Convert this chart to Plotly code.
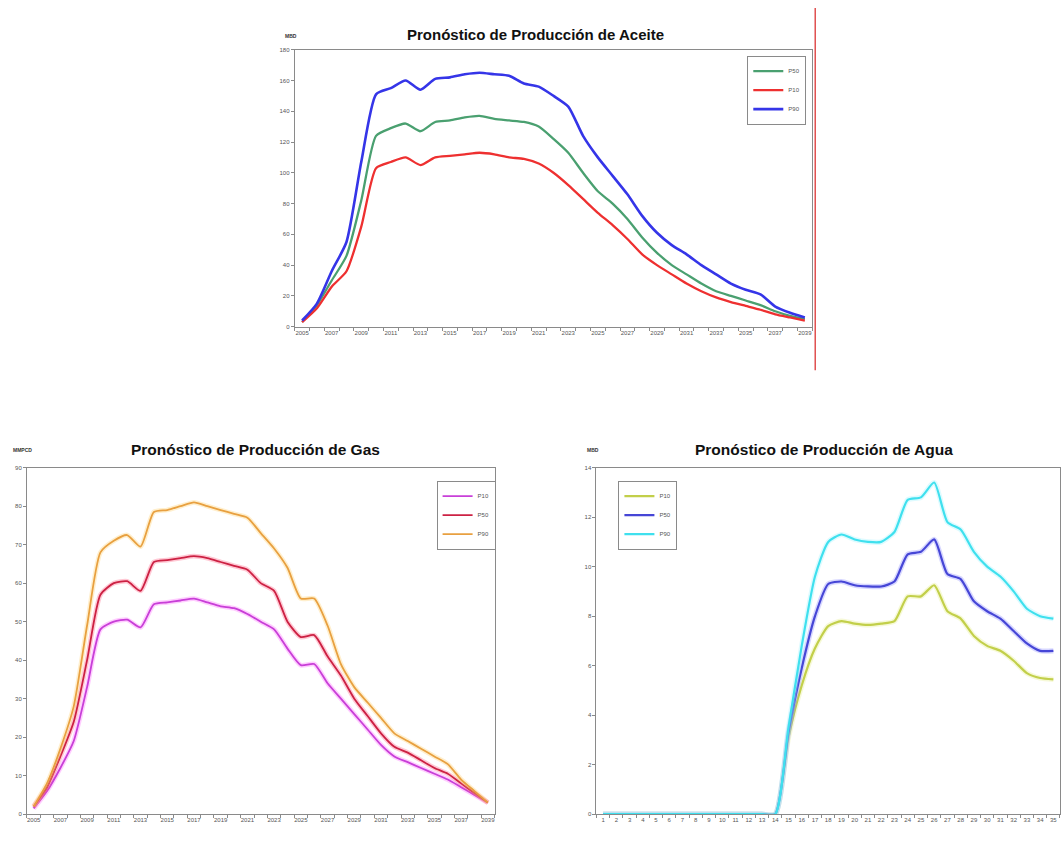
import plotly.graph_objects as go

W, H = 1061, 841

# ---------------- data ----------------
years = list(range(2005, 2040))
year_labels = [str(y) for y in range(2005, 2040, 2)]

# Oil (MBD)
oil_p50 = [3, 14, 30, 46, 82, 124, 129, 132, 127, 133, 134, 136, 137, 135, 134, 133, 130,
           122, 113, 100, 88, 80, 70, 58, 48, 40, 34, 28, 23, 20, 17, 14, 10, 7, 5]
oil_p10 = [3, 12, 26, 36, 65, 103, 107, 110, 105, 110, 111, 112, 113, 112, 110, 109, 106,
           100, 92, 83, 74, 66, 57, 47, 40, 34, 28, 23, 19, 16, 13.5, 11, 8, 6, 4]
oil_p90 = [4, 15, 36, 55, 107, 151, 155, 160, 154, 161, 162, 164, 165, 164, 163, 158, 156,
           150, 143, 124, 110, 98, 86, 72, 61, 53, 47, 40, 34, 28, 24, 21, 13, 9, 6]

# Gas (MMPCD)
gas_p10 = [1.5, 6, 12, 19, 33, 48, 50, 50.5, 48.5, 54.5, 55, 55.5, 56, 55, 54, 53.5, 52,
           50, 48, 43, 38.7, 39, 34, 30, 26, 22, 18, 15, 13.5, 12, 10.5, 9, 7, 5, 3]
gas_p50 = [2, 7, 15, 24, 40, 57, 60, 60.5, 58, 65.5, 66, 66.5, 67, 66.5, 65.5, 64.5, 63.5,
           60, 58, 50, 46, 46.5, 41, 36, 30, 25.5, 21, 17.5, 16, 14, 12, 10.5, 8, 5.5, 3]
gas_p90 = [2, 8, 17, 28, 49, 68, 71, 72.5, 69.5, 78.5, 79, 80, 81, 80, 79, 78, 77,
           73, 69, 64, 56, 56, 49, 39, 33, 29, 25, 21, 19, 17, 15, 13, 9, 6, 3]

# Water (MBD)
periods = list(range(1, 36))
water_p10 = [0] * 14 + [3.1, 5.2, 6.7, 7.6, 7.8, 7.7, 7.65, 7.7, 7.8, 8.8, 8.8, 9.25, 8.2,
                        7.9, 7.2, 6.8, 6.6, 6.2, 5.7, 5.5, 5.45]
water_p50 = [0] * 14 + [3.3, 5.9, 8.0, 9.3, 9.4, 9.25, 9.2, 9.2, 9.4, 10.5, 10.6, 11.1, 9.7,
                        9.5, 8.6, 8.2, 7.9, 7.4, 6.9, 6.6, 6.6]
water_p90 = [0] * 14 + [3.5, 6.8, 9.6, 11.0, 11.3, 11.1, 11.0, 11.0, 11.4, 12.7, 12.8, 13.4,
                        11.8, 11.5, 10.6, 10.0, 9.6, 9.0, 8.3, 8.0, 7.9]

# ---------------- helpers ----------------
def px(x):
    return x / W

def py(y):
    return 1 - y / H

SANS = "Liberation Sans, Arial, sans-serif"
NARROW = "Liberation Sans Narrow, Arial Narrow, Liberation Sans, sans-serif"
TICKFONT = dict(family=SANS, size=6, color="#555555")

fig = go.Figure()

def add_line(x, y, color, name, xa, ya, legend, width=2.2, halo=None):
    if halo:
        fig.add_trace(go.Scatter(x=x, y=y, mode="lines", xaxis=xa, yaxis=ya,
                                 line=dict(color=halo, width=width + 3, shape="spline",
                                           smoothing=0.6),
                                 opacity=0.35, showlegend=False, hoverinfo="skip",
                                 legend=legend))
    fig.add_trace(go.Scatter(x=x, y=y, mode="lines", name=name, xaxis=xa, yaxis=ya,
                             line=dict(color=color, width=width, shape="spline",
                                       smoothing=0.6),
                             legend=legend))

# Oil chart
add_line(years, oil_p50, "#4aa070", "P50", "x", "y", "legend", 2.3)
add_line(years, oil_p10, "#ee3030", "P10", "x", "y", "legend", 2.3)
add_line(years, oil_p90, "#3535e8", "P90", "x", "y", "legend", 2.6)

# Gas chart
add_line(years, gas_p10, "#c83fd8", "P10", "x2", "y2", "legend2", 1.8, halo="#ff70ff")
add_line(years, gas_p50, "#cc2244", "P50", "x2", "y2", "legend2", 1.8, halo="#ff6688")
add_line(years, gas_p90, "#e8a040", "P90", "x2", "y2", "legend2", 1.8, halo="#ffd070")

# Water chart
add_line(periods, water_p10, "#c2cf4a", "P10", "x3", "y3", "legend3", 2.2, halo="#e8f090")
add_line(periods, water_p50, "#4646d6", "P50", "x3", "y3", "legend3", 2.2, halo="#9090ff")
add_line(periods, water_p90, "#3fe0ee", "P90", "x3", "y3", "legend3", 2.2, halo="#a0f4ff")

AX = dict(showline=True, linecolor="#8a8a8a", linewidth=1, mirror=True,
          showgrid=False, zeroline=False, tickfont=TICKFONT, fixedrange=True)

def xyear(domain, anchor):
    return dict(AX, domain=domain, anchor=anchor, range=[2004.5, 2039.5],
                tickmode="array", tickvals=list(range(2005, 2040, 2)), ticktext=year_labels,
                ticks="", ticklen=0,
                minor=dict(tickmode="array", tickvals=[v - 0.5 for v in years] + [2039.5],
                           ticks="outside", ticklen=3, tickcolor="#8a8a8a"))

def yax(domain, anchor, rng, dtick):
    return dict(AX, domain=domain, anchor=anchor, range=rng, tickmode="linear", tick0=0,
                dtick=dtick, ticks="outside", ticklen=3, tickcolor="#8a8a8a")

LEGFONT = dict(family=SANS, size=6, color="#555555")

fig.update_layout(
    width=W, height=H, margin=dict(l=0, r=0, t=0, b=0),
    paper_bgcolor="white", plot_bgcolor="white",
    xaxis=xyear([px(295), px(813)], "y"),
    yaxis=yax([py(326), py(47)], "x", [0, 180], 20),
    xaxis2=xyear([px(27), px(495)], "y2"),
    yaxis2=yax([py(817), py(468)], "x2", [0, 90], 10),
    xaxis3=dict(AX, domain=[px(597), 1.0], anchor="y3", range=[0.5, 35.5],
                tickmode="array", tickvals=periods, ticktext=[str(p) for p in periods],
                ticks="", ticklen=0,
                minor=dict(tickmode="array", tickvals=[p - 0.5 for p in periods] + [35.5],
                           ticks="outside", ticklen=3, tickcolor="#8a8a8a")),
    yaxis3=yax([py(817), py(468)], "x3", [0, 14], 2),
    legend=dict(x=px(748), y=py(53), xanchor="left", yanchor="top",
                bgcolor="white", bordercolor="#8a8a8a", borderwidth=1,
                font=LEGFONT, itemwidth=30, tracegroupgap=0),
    legend2=dict(x=px(437), y=py(481), xanchor="left", yanchor="top",
                 bgcolor="white", bordercolor="#8a8a8a", borderwidth=1,
                 font=LEGFONT, itemwidth=30, tracegroupgap=0),
    legend3=dict(x=px(619), y=py(481), xanchor="left", yanchor="top",
                 bgcolor="white", bordercolor="#8a8a8a", borderwidth=1,
                 font=LEGFONT, itemwidth=30, tracegroupgap=0),
    showlegend=True,
)

annotations = [
    dict(text="<b>Pronóstico de Producción de Aceite</b>", x=px(536), y=py(32),
         font=dict(family=SANS, size=15, color="#111111")),
    dict(text="<b>MBD</b>", x=px(291), y=py(33), font=dict(family=SANS, size=5, color="#333333")),
    dict(text="<b>Pronóstico de Producción de Gas</b>", x=px(256), y=py(450),
         font=dict(family=NARROW, size=15.5, color="#111111")),
    dict(text="<b>MMPCD</b>", x=px(23), y=py(450), font=dict(family=SANS, size=5, color="#333333")),
    dict(text="<b>Pronóstico de Producción de Agua</b>", x=px(825), y=py(450),
         font=dict(family=NARROW, size=15.5, color="#111111")),
    dict(text="<b>MBD</b>", x=px(594), y=py(450), font=dict(family=SANS, size=5, color="#333333")),
]
for a in annotations:
    fig.add_annotation(xref="paper", yref="paper", showarrow=False,
                       xanchor="center", yanchor="middle", **a)

# red vertical separator line
fig.add_shape(type="line", xref="paper", yref="paper", x0=px(816), x1=px(816),
              y0=py(5), y1=py(370), line=dict(color="#e05050", width=1.5))

fig.write_html("out.html", config={"displayModeBar": False},
               post_script="document.body.style.margin='0px';document.body.style.overflow='hidden';")
